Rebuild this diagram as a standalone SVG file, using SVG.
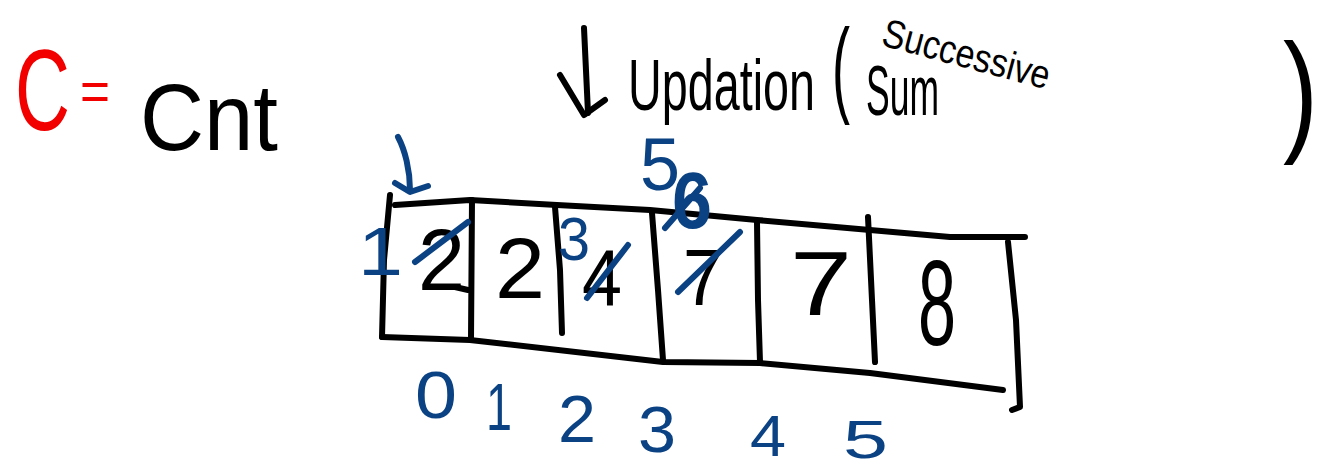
<svg xmlns="http://www.w3.org/2000/svg" width="1331" height="470" viewBox="0 0 1331 470">
  <style>
    .ink { fill: none; stroke: #000; stroke-width: 6; stroke-linecap: round; stroke-linejoin: round; }
    .blue { fill: none; stroke: #0b4283; stroke-width: 6; stroke-linecap: round; stroke-linejoin: round; }
    .t { font-family: "Liberation Sans", "DejaVu Sans", sans-serif; }
    .k { fill: #000; }
    .b { fill: #0b4283; }
    .r { fill: #f20000; }
  </style>
  <rect width="1331" height="470" fill="#fff"/>

  <!-- legend: C = Cnt -->
  <g id="legend">
    <text class="t r" x="15" y="130" font-size="115" textLength="55" lengthAdjust="spacingAndGlyphs">C</text>
    <text class="t r" x="80" y="110" font-size="55" textLength="30" lengthAdjust="spacingAndGlyphs">=</text>
    <text class="t k" x="140" y="150" font-size="95" textLength="138" lengthAdjust="spacingAndGlyphs">Cnt</text>
  </g>

  <!-- heading: Updation (Successive Sum) -->
  <g id="heading">
    <text class="t k" x="628" y="110" font-size="72" textLength="187" lengthAdjust="spacingAndGlyphs">Updation</text>
    <text class="t k" x="832" y="103" font-size="106" textLength="18" lengthAdjust="spacingAndGlyphs">(</text>
    <text class="t k" x="880" y="45" font-size="40" textLength="172" lengthAdjust="spacingAndGlyphs" transform="rotate(15 880 45)">Successive</text>
    <text class="t k" x="866" y="115" font-size="70" textLength="73" lengthAdjust="spacingAndGlyphs">Sum</text>
    <text class="t k" x="1283" y="137" font-size="133" textLength="35" lengthAdjust="spacingAndGlyphs">)</text>
  </g>

  <!-- array outline and cell dividers -->
  <g id="array">
    <path class="ink" d="M395,205 L470,200 L557,205 L650,210 L757,220 L870,230 L950,237 L1025,237"/>
    <path class="ink" d="M382,337 L470,340 L663,362 L760,363 L870,373 L1003,390"/>
    <path class="ink" d="M390,195 L384,260 L382,337"/>
    <path class="ink" d="M472,200 L471,340"/>
    <path class="ink" d="M555,207 L560,270 L562,333"/>
    <path class="ink" d="M652,213 L658,290 L663,360"/>
    <path class="ink" d="M757,222 L758,300 L760,362"/>
    <path class="ink" d="M868,217 L872,300 L875,362"/>
    <path class="ink" d="M1008,242 L1016,320 L1020,407 L1012,410"/>
  </g>

  <!-- cell values -->
  <g id="cell-0">
    <text class="t k" x="418" y="290" font-size="88" textLength="47" lengthAdjust="spacingAndGlyphs">2</text>
    <path class="ink" d="M455,287 L468,290"/>
    <path class="blue" d="M415,262 L468,222"/>
    <text class="t b" x="358" y="275" font-size="68" textLength="45" lengthAdjust="spacingAndGlyphs">1</text>
  </g>
  <g id="cell-1">
    <text class="t k" x="495" y="298" font-size="85" textLength="50" lengthAdjust="spacingAndGlyphs">2</text>
  </g>
  <g id="cell-2">
    <text class="t k" x="582" y="305" font-size="80" textLength="40" lengthAdjust="spacingAndGlyphs">4</text>
    <path class="blue" d="M587,298 L628,245"/>
    <text class="t b" x="558" y="260" font-size="62" textLength="32" lengthAdjust="spacingAndGlyphs">3</text>
  </g>
  <g id="cell-3">
    <text class="t k" x="683" y="305" font-size="80" textLength="40" lengthAdjust="spacingAndGlyphs">7</text>
    <path class="blue" d="M678,292 L740,232"/>
    <text class="t b" x="640" y="190" font-size="75" textLength="40" lengthAdjust="spacingAndGlyphs">5</text>
    <path class="blue" d="M665,228 L700,188"/>
    <text class="t b" x="672" y="228" font-size="80" font-weight="bold" textLength="40" lengthAdjust="spacingAndGlyphs">6</text>
  </g>
  <g id="cell-4">
    <text class="t k" x="790" y="315" font-size="90" textLength="62" lengthAdjust="spacingAndGlyphs">7</text>
  </g>
  <g id="cell-5">
    <text class="t k" x="918" y="345" font-size="120" textLength="38" lengthAdjust="spacingAndGlyphs">8</text>
  </g>

  <!-- indices -->
  <g id="indices">
    <text class="t b" x="415" y="418" font-size="66" textLength="42" lengthAdjust="spacingAndGlyphs">0</text>
    <text class="t b" x="486" y="430" font-size="66" textLength="26" lengthAdjust="spacingAndGlyphs">1</text>
    <text class="t b" x="558" y="442" font-size="66" textLength="38" lengthAdjust="spacingAndGlyphs">2</text>
    <text class="t b" x="638" y="452" font-size="64" textLength="38" lengthAdjust="spacingAndGlyphs">3</text>
    <text class="t b" x="750" y="456" font-size="58" textLength="36" lengthAdjust="spacingAndGlyphs">4</text>
    <text class="t b" x="843" y="458" font-size="54" textLength="45" lengthAdjust="spacingAndGlyphs">5</text>
  </g>

  <!-- arrows -->
  <g id="connectors">
    <path class="ink" d="M584,28 L588,113"/>
    <path class="ink" d="M560,75 L584,115 L605,100"/>
    <path class="blue" d="M398,137 C405,150 410,170 410,190"/>
    <path class="blue" d="M395,183 L410,192 L428,186"/>
  </g>
</svg>
